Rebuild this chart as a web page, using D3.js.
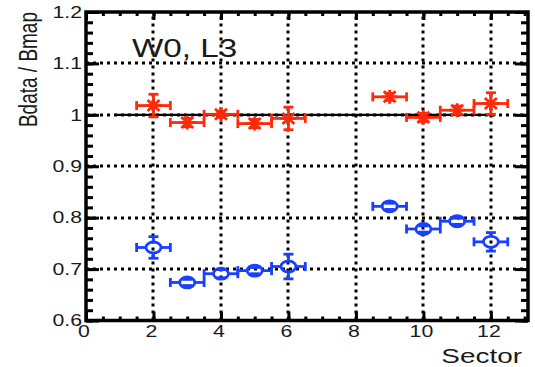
<!DOCTYPE html>
<html><head><meta charset="utf-8">
<script src="https://cdn.jsdelivr.net/npm/d3@7"></script>
<style>body{margin:0;background:#fff}svg{display:block}text{font-family:"Liberation Sans",Arial,sans-serif;fill:#1a1a1a}</style>
</head><body>
<script>
const sectors = [2, 3, 4, 5, 6, 9, 10, 11, 12];
const redVals = [1.018, 0.985, 1.001, 0.983, 0.993, 1.035, 0.995, 1.009, 1.022];
const redErr = [0.022, 0.008, 0.006, 0.008, 0.022, 0.007, 0.008, 0.008, 0.021];
const blueVals = [0.742, 0.674, 0.691, 0.697, 0.705, 0.822, 0.778, 0.793, 0.753];
const blueErr = [0.021, 0.006, 0.008, 0.006, 0.024, 0.006, 0.006, 0.006, 0.018];
const xHalfWidth = 0.5;
const xTicks = [0, 2, 4, 6, 8, 10, 12];
const yTicks = [0.6, 0.7, 0.8, 0.9, 1.0, 1.1, 1.2];
const yTickLabels = ["0.6", "0.7", "0.8", "0.9", "1", "1.1", "1.2"];
const refLine = {value: 1.0, from: 0.87, to: 12.05};
const title = "W0, L3";
const yLabel = "Bdata / Bmap";
const xLabel = "Sector";

const W = 535, H = 367, SX = 1.33;
const svg = d3.select("body").append("svg").attr("width", W).attr("height", H);
const x = d3.scaleLinear().domain([0, 13.1]).range([86, 528]);
const y = d3.scaleLinear().domain([0.6, 1.2]).range([320.5, 12]);
const [x0, x1] = x.range(), [y0, y1] = y.range();
const RED = "#ff2a0a", BLUE = "#1a40ff";

// grid
const grid = svg.append("g").attr("stroke", "#000").attr("stroke-width", 3).attr("stroke-dasharray", "3,4");
xTicks.filter(t => t > 0).forEach(t => grid.append("line").attr("x1", Math.round(x(t))).attr("x2", Math.round(x(t))).attr("y1", y0).attr("y2", y1));
yTicks.filter(t => t > 0.6 && t < 1.2).forEach(t => grid.append("line").attr("x1", x0).attr("x2", x1).attr("y1", Math.round(y(t))).attr("y2", Math.round(y(t))));

// reference line
svg.append("line").attr("x1", x(refLine.from)).attr("x2", x(refLine.to)).attr("y1", y(refLine.value)).attr("y2", y(refLine.value))
  .attr("stroke", "#000").attr("stroke-width", 2.4);

// axes using d3 axis generators
function styleAxis(g) {
  g.select(".domain").remove();
  g.selectAll("text").remove();
  g.selectAll("line").attr("stroke", "#000").attr("stroke-width", 3);
}
const xMinor = d3.range(0, 13.01, 0.5);
const yMinor = d3.range(0.6, 1.2001, 0.02);
svg.append("g").attr("transform", `translate(0,${y0})`).call(d3.axisTop(x).tickValues(xMinor).tickSize(4)).call(styleAxis);
svg.append("g").attr("transform", `translate(0,${y0})`).call(d3.axisTop(x).tickValues(xTicks).tickSize(9)).call(styleAxis);
svg.append("g").attr("transform", `translate(0,${y1})`).call(d3.axisBottom(x).tickValues(xMinor).tickSize(4)).call(styleAxis);
svg.append("g").attr("transform", `translate(0,${y1})`).call(d3.axisBottom(x).tickValues(xTicks).tickSize(8)).call(styleAxis);
svg.append("g").attr("transform", `translate(${x0},0)`).call(d3.axisRight(y).tickValues(yMinor).tickSize(7)).call(styleAxis);
svg.append("g").attr("transform", `translate(${x0},0)`).call(d3.axisRight(y).tickValues(yTicks).tickSize(13)).call(styleAxis);
svg.append("g").attr("transform", `translate(${x1},0)`).call(d3.axisLeft(y).tickValues(yMinor).tickSize(7)).call(styleAxis);
svg.append("g").attr("transform", `translate(${x1},0)`).call(d3.axisLeft(y).tickValues(yTicks).tickSize(13)).call(styleAxis);

// frame
svg.append("rect").attr("x", x0).attr("y", y1).attr("width", x1 - x0).attr("height", y0 - y1)
  .attr("fill", "none").attr("stroke", "#000").attr("stroke-width", 3.5);

// tick labels
xTicks.forEach(t => svg.append("text").attr("transform", `translate(${x(t) - 2},337) scale(${SX},1)`)
  .attr("text-anchor", "middle").attr("font-size", 16).text(t));
yTicks.forEach((t, i) => svg.append("text").attr("transform", `translate(82,${y(t)}) scale(${SX},1)`)
  .attr("text-anchor", "end").attr("dy", "0.36em").attr("font-size", 16).text(yTickLabels[i]));

// labels
svg.append("text").attr("transform", `translate(522,363) scale(${SX},1)`).attr("text-anchor", "end").attr("font-size", 21).text(xLabel);
svg.append("text").attr("transform", `translate(37,12) scale(${SX},1) rotate(-90)`).attr("text-anchor", "end").attr("font-size", 19).text(yLabel);
svg.append("text").attr("transform", `translate(132,56.5) scale(${SX},1)`).attr("font-size", 25).text(title);

// error bars
function errorBars(vals, errs, color, gapX, gapY) {
  const g = svg.append("g").attr("stroke", color).attr("stroke-width", 2.8).attr("fill", "none");
  sectors.forEach((s, i) => {
    const cx = x(s), cy = y(vals[i]);
    const xl = x(s - xHalfWidth), xr = x(s + xHalfWidth);
    const yt = y(vals[i] + errs[i]), yb = y(vals[i] - errs[i]);
    g.append("line").attr("x1", xl).attr("x2", cx - gapX).attr("y1", cy).attr("y2", cy);
    g.append("line").attr("x1", cx + gapX).attr("x2", xr).attr("y1", cy).attr("y2", cy);
    g.append("line").attr("x1", xl).attr("x2", xl).attr("y1", cy - 4.5).attr("y2", cy + 4.5);
    g.append("line").attr("x1", xr).attr("x2", xr).attr("y1", cy - 4.5).attr("y2", cy + 4.5);
    if (cy - yt > gapY) g.append("line").attr("x1", cx).attr("x2", cx).attr("y1", yt).attr("y2", cy - gapY);
    if (yb - cy > gapY) g.append("line").attr("x1", cx).attr("x2", cx).attr("y1", cy + gapY).attr("y2", yb);
    g.append("line").attr("x1", cx - 5).attr("x2", cx + 5).attr("y1", yt).attr("y2", yt);
    g.append("line").attr("x1", cx - 5).attr("x2", cx + 5).attr("y1", yb).attr("y2", yb);
  });
}
errorBars(redVals, redErr, RED, 0, 0);
errorBars(blueVals, blueErr, BLUE, 7.5, 5.5);

// red star markers
const stars = svg.append("g").attr("stroke", RED).attr("stroke-width", 2.8);
sectors.forEach((s, i) => {
  const cx = x(s), cy = y(redVals[i]);
  [[-8, 0, 8, 0], [0, -7, 0, 7], [-6, -5.5, 6, 5.5], [-6, 5.5, 6, -5.5]].forEach(l =>
    stars.append("line").attr("x1", cx + l[0]).attr("y1", cy + l[1]).attr("x2", cx + l[2]).attr("y2", cy + l[3]));
});

// blue open circle markers
svg.append("g").selectAll("ellipse").data(sectors).join("ellipse")
  .attr("cx", d => x(d)).attr("cy", (d, i) => y(blueVals[i])).attr("rx", 7.5).attr("ry", 5.5)
  .attr("fill", "none").attr("stroke", BLUE).attr("stroke-width", 2.8);
</script>
</body></html>
